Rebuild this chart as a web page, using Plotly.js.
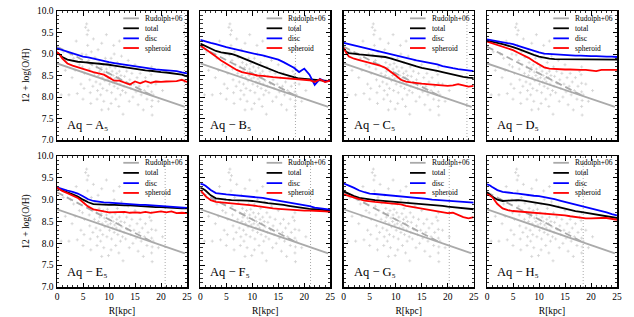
<!DOCTYPE html>
<html>
<head>
<meta charset="utf-8">
<script src="https://cdn.plot.ly/plotly-3.0.1.min.js"></script>
<style>html,body{margin:0;padding:0;background:#fff;}#chart{width:634px;height:317px;}</style>
</head>
<body>
<div id="chart"></div>
<script>
// ---------------- data ----------------
const panelNames = ['A','B','C','D','E','F','G','H'];
const radius = [0,0.5,1,2,3,4,5,6,7,8,9,10,11,12,13,14,15,16,17,18,19,20,21,22,23,24,25];

const discA  = [9.13,9.11,9.09,9.05,9.01,8.97,8.94,8.92,8.89,8.86,8.83,8.81,8.79,8.77,8.75,8.73,8.71,8.69,8.67,8.66,8.64,8.63,8.62,8.61,8.60,8.57,8.55];
const totalA = [9.04,8.98,8.93,8.87,8.84,8.82,8.81,8.80,8.79,8.78,8.76,8.75,8.73,8.71,8.70,8.68,8.66,8.64,8.62,8.61,8.59,8.58,8.57,8.55,8.54,8.52,8.48];
const sphA   = [9.04,8.99,8.90,8.78,8.73,8.69,8.66,8.62,8.58,8.55,8.52,8.45,8.38,8.38,8.34,8.29,8.36,8.32,8.37,8.33,8.36,8.35,8.36,8.36,8.37,8.40,8.35];

const discB  = [9.33,9.31,9.29,9.26,9.23,9.19,9.16,9.13,9.10,9.07,9.05,9.02,8.99,8.97,8.94,8.91,8.87,8.81,8.74,8.68,8.58,8.66,8.52,8.28,8.42,8.36,8.38];
const totalB = [9.24,9.21,9.18,9.12,9.07,9.04,9.02,9.00,8.96,8.91,8.86,8.81,8.76,8.71,8.66,8.61,8.57,8.53,8.49,8.46,8.43,8.42,8.42,8.41,8.40,8.38,8.37];
const sphB   = [9.20,9.16,9.12,9.03,8.94,8.85,8.77,8.70,8.63,8.58,8.55,8.52,8.50,8.49,8.47,8.46,8.45,8.44,8.43,8.42,8.41,8.40,8.39,8.35,8.41,8.35,8.38];

const discC  = [9.26,9.25,9.23,9.20,9.17,9.14,9.12,9.09,9.06,9.03,9.00,8.97,8.94,8.91,8.88,8.85,8.83,8.81,8.79,8.76,8.72,8.69,8.67,8.65,8.63,8.61,8.60];
const totalC = [9.12,9.05,9.02,9.00,8.99,8.98,8.97,8.96,8.95,8.93,8.90,8.86,8.82,8.78,8.74,8.71,8.68,8.66,8.64,8.61,8.58,8.55,8.52,8.50,8.47,8.45,8.44];
const sphC   = [9.14,9.02,8.94,8.89,8.86,8.83,8.80,8.77,8.73,8.68,8.60,8.50,8.40,8.36,8.34,8.32,8.31,8.30,8.29,8.28,8.27,8.26,8.27,8.30,8.27,8.24,8.26];

const discD  = [9.34,9.33,9.32,9.30,9.28,9.26,9.23,9.19,9.15,9.11,9.07,9.04,9.01,9.00,8.99,8.98,8.97,8.97,8.96,8.96,8.95,8.95,8.95,8.94,8.94,8.94,8.93];
const totalD = [9.31,9.30,9.28,9.26,9.23,9.20,9.16,9.12,9.07,9.03,8.98,8.94,8.91,8.89,8.88,8.88,8.87,8.87,8.87,8.87,8.87,8.87,8.87,8.87,8.87,8.87,8.87];
const sphD   = [9.29,9.27,9.25,9.21,9.17,9.14,9.09,9.03,8.97,8.91,8.83,8.75,8.69,8.66,8.65,8.64,8.64,8.64,8.63,8.63,8.63,8.62,8.60,8.63,8.63,8.63,8.63];

const discE  = [9.28,9.26,9.24,9.21,9.18,9.14,9.08,9.01,8.97,8.95,8.94,8.93,8.92,8.92,8.91,8.90,8.89,8.88,8.88,8.87,8.86,8.85,8.85,8.84,8.83,8.82,8.81];
const totalE = [9.26,9.24,9.21,9.17,9.12,9.07,9.00,8.94,8.90,8.89,8.88,8.88,8.88,8.87,8.87,8.87,8.86,8.86,8.85,8.84,8.83,8.83,8.82,8.81,8.81,8.80,8.80];
const sphE   = [9.28,9.24,9.20,9.15,9.10,9.04,8.94,8.84,8.78,8.75,8.73,8.71,8.71,8.71,8.72,8.70,8.71,8.70,8.72,8.70,8.72,8.73,8.71,8.73,8.69,8.70,8.69];

const discF  = [9.36,9.35,9.32,9.22,9.15,9.13,9.12,9.11,9.10,9.09,9.08,9.06,9.05,9.04,9.02,9.00,8.97,8.95,8.93,8.91,8.89,8.87,8.85,8.82,8.80,8.78,8.77];
const totalF = [9.27,9.25,9.21,9.10,9.03,9.01,9.00,8.99,8.99,8.98,8.98,8.97,8.96,8.94,8.92,8.91,8.89,8.88,8.86,8.84,8.82,8.81,8.79,8.78,8.77,8.76,8.75];
const sphF   = [9.22,9.16,9.08,8.99,8.95,8.94,8.93,8.92,8.91,8.90,8.89,8.87,8.85,8.83,8.81,8.80,8.79,8.78,8.77,8.76,8.75,8.75,8.75,8.75,8.74,8.73,8.72];

const discG  = [9.37,9.35,9.32,9.27,9.21,9.17,9.14,9.13,9.12,9.11,9.10,9.08,9.07,9.07,9.06,9.05,9.04,9.02,9.00,8.99,8.98,8.97,8.96,8.95,8.95,8.94,8.93];
const totalG = [9.19,9.16,9.13,9.08,9.04,9.02,9.00,8.99,8.98,8.97,8.96,8.95,8.95,8.94,8.93,8.92,8.91,8.90,8.89,8.87,8.86,8.84,8.83,8.81,8.81,8.79,8.78];
const sphG   = [9.12,9.10,9.08,9.05,9.01,8.98,8.96,8.95,8.94,8.93,8.92,8.91,8.89,8.86,8.84,8.82,8.80,8.78,8.76,8.74,8.71,8.69,8.70,8.65,8.60,8.57,8.60];

const discH  = [9.35,9.33,9.29,9.22,9.18,9.16,9.15,9.14,9.12,9.10,9.09,9.08,9.06,9.04,9.01,8.98,8.95,8.93,8.89,8.86,8.83,8.80,8.77,8.74,8.71,8.67,8.64];
const totalH = [9.17,9.12,9.07,9.00,8.97,8.98,8.99,8.99,8.98,8.96,8.94,8.93,8.91,8.88,8.85,8.82,8.79,8.77,8.74,8.72,8.70,8.68,8.66,8.64,8.62,8.60,8.58];
const sphH   = [9.12,9.10,9.06,8.90,8.80,8.76,8.74,8.73,8.72,8.71,8.70,8.70,8.69,8.68,8.67,8.66,8.64,8.62,8.60,8.58,8.57,8.57,8.58,8.58,8.58,8.56,8.54];

// dotted vertical marker radius per panel (null = none)
const markerRadius = [24.5, 18.3, 23.7, null, 20.8, 21.2, 20.3, 18.5];

// Rudolph+06 gradient (solid) and its dashed variant
const rudolphR  = [0, 24.6];
const rudolphOH = [8.78, 7.77];
const dashedR   = [0, 18.5];
const dashedOH  = [9.17, 8.02];

// observational HII regions (grey crosses)
const obsR = [0.8,1.6,2.3,2.9,3.2,3.5,3.9,2.6,3.7,1.2,
  4.3,4.6,4.8,5.0,5.3,5.5,5.7,5.8,5.9,6.0,6.1,6.2,6.3,6.4,6.5,5.6,6.6,6.8,6.9,7.0,5.2,4.9,
  7.2,7.3,7.5,7.6,7.8,7.9,8.0,8.1,8.2,8.3,8.4,8.5,8.6,8.7,8.8,8.9,9.0,9.1,9.2,9.3,9.4,9.5,9.6,9.7,9.8,9.9,7.7,8.6,9.5,
  10.0,10.1,10.2,10.3,10.4,10.5,10.6,10.7,10.8,10.9,11.0,11.1,11.2,11.3,11.4,11.5,11.6,11.7,11.8,11.9,12.0,12.1,12.2,12.3,12.4,12.5,12.6,12.7,12.8,12.9,10.4,11.0,12.0,
  13.0,13.2,13.4,13.5,13.7,13.9,14.0,14.2,14.4,14.6,14.8,15.0,15.2,15.4,15.6,15.8,16.0,16.2,16.4,16.6,
  16.8,17.0,17.3,17.5,17.8,18.1,18.2,18.2,18.3,18.2,18.3,18.2,18.5,19.0,19.5,20.3];
const obsOH = [8.05,8.62,8.05,8.45,8.90,8.62,8.08,9.00,9.30,9.05,
  8.75,8.30,9.00,7.95,8.55,9.62,9.70,9.45,9.20,9.55,8.85,8.65,8.40,8.10,7.85,8.98,9.05,8.75,8.25,9.35,8.20,8.70,
  8.55,8.92,8.35,8.70,8.15,9.10,8.50,8.80,8.60,8.30,8.05,8.68,9.25,8.45,8.20,8.75,7.90,8.58,8.38,8.90,8.50,8.65,8.15,8.78,8.42,7.72,7.95,7.70,9.45,
  8.55,8.30,8.70,8.45,8.90,8.10,8.60,8.35,8.50,9.20,8.25,8.42,8.68,7.95,8.35,8.55,8.80,8.20,8.45,7.78,8.60,8.30,8.05,8.50,8.95,8.38,8.15,7.60,8.70,8.25,7.85,9.00,9.30,
  8.48,8.10,8.60,8.32,8.85,7.90,8.40,8.20,8.55,8.00,8.30,8.75,8.12,8.45,7.82,8.25,8.55,8.05,8.35,7.70,
  8.15,8.45,7.95,8.25,8.60,8.52,8.32,8.12,7.92,7.78,7.58,8.70,8.05,8.30,7.90,8.15];

const curves = {
  A:[totalA,discA,sphA], B:[totalB,discB,sphB], C:[totalC,discC,sphC], D:[totalD,discD,sphD],
  E:[totalE,discE,sphE], F:[totalF,discF,sphF], G:[totalG,discG,sphG], H:[totalH,discH,sphH]
};
const curveNames = ['total','disc','spheroid'];
const curveColors = ['#000000','#0000ff','#ff0000'];
const legendNames = ['Rudolph+06','total','disc','spheroid'];
const legendColors = ['#aaaaaa','#000000','#0000ff','#ff0000'];

// ---------------- layout ----------------
const W = 634, H = 317;
const colLeft = [57, 200.3, 343.7, 487];
const panelW = 130;
const rowTop = [11, 156];
const panelH = [129, 131];
const FONT = 'Liberation Serif, DejaVu Serif, serif';

const traces = [];
const layout = {
  width: W, height: H,
  margin: {l:0, r:0, t:0, b:0},
  paper_bgcolor: '#fff', plot_bgcolor: '#fff',
  showlegend: false,
  font: {family: FONT, size: 9.5, color: '#000'},
  shapes: [], annotations: []
};

panelNames.forEach((p, i) => {
  const col = i % 4, row = Math.floor(i / 4);
  const xa = i === 0 ? 'x' : 'x' + (i + 1);
  const ya = i === 0 ? 'y' : 'y' + (i + 1);
  const xk = i === 0 ? 'xaxis' : 'xaxis' + (i + 1);
  const yk = i === 0 ? 'yaxis' : 'yaxis' + (i + 1);
  const x0 = colLeft[col] / W, x1 = (colLeft[col] + panelW) / W;
  const yTopPx = rowTop[row], yBotPx = rowTop[row] + panelH[row];
  const y0 = 1 - yBotPx / H, y1 = 1 - yTopPx / H;

  layout[xk] = {
    domain: [x0, x1], anchor: ya, range: [0, 25], dtick: 5, tick0: 0,
    ticks: 'inside', ticklen: 4.5, tickwidth: 1, tickcolor: '#000',
    minor: {ticks: 'inside', dtick: 1, ticklen: 2.2, tickwidth: 0.8, tickcolor: '#000'},
    showline: true, linewidth: 1.5, linecolor: '#000', mirror: 'allticks',
    showgrid: false, zeroline: false,
    showticklabels: row === 1, tickfont: {family: FONT, size: 9.5}
  };
  if (row === 1) layout[xk].title = {text: 'R[kpc]', font: {family: FONT, size: 9.5}, standoff: 6};
  layout[yk] = {
    domain: [y0, y1], anchor: xa, range: [7, 10], dtick: 0.5, tick0: 7,
    tickformat: '.1f',
    ticks: 'inside', ticklen: 4.5, tickwidth: 1, tickcolor: '#000',
    minor: {ticks: 'inside', dtick: 0.1, ticklen: 2.2, tickwidth: 0.8, tickcolor: '#000'},
    showline: true, linewidth: 1.5, linecolor: '#000', mirror: 'allticks',
    showgrid: false, zeroline: false,
    showticklabels: col === 0, tickfont: {family: FONT, size: 9.5}
  };
  if (col === 0) layout[yk].title = {text: '12 + log(O/H)', font: {family: FONT, size: 9.5}, standoff: 5};

  // observations
  traces.push({x: obsR, y: obsOH, xaxis: xa, yaxis: ya, type: 'scatter', mode: 'markers',
    marker: {symbol: 'cross-thin', size: 2.2, color: '#d2d2d2', line: {width: 0.8, color: '#d2d2d2'}},
    hoverinfo: 'skip'});
  // Rudolph+06
  traces.push({x: rudolphR, y: rudolphOH, xaxis: xa, yaxis: ya, type: 'scatter', mode: 'lines',
    line: {color: '#aaaaaa', width: 1.8}, name: 'Rudolph+06'});
  traces.push({x: dashedR, y: dashedOH, xaxis: xa, yaxis: ya, type: 'scatter', mode: 'lines',
    line: {color: '#aaaaaa', width: 1.8, dash: '7px,4px'}, hoverinfo: 'skip'});
  // model curves
  curves[p].forEach((vals, k) => {
    traces.push({x: radius, y: vals, xaxis: xa, yaxis: ya, type: 'scatter', mode: 'lines',
      line: {color: curveColors[k], width: 1.8}, name: curveNames[k]});
  });

  // dotted marker line
  if (markerRadius[i] !== null) {
    layout.shapes.push({type: 'line', xref: xa, yref: ya + ' domain', x0: markerRadius[i], x1: markerRadius[i], y0: 0, y1: 1,
      line: {color: '#aaaaaa', width: 1, dash: '1px,2px'}, layer: 'below'});
  }

  // legend (per panel)
  const legY = [0.943, 0.866, 0.788, 0.713];
  legendNames.forEach((nm, k) => {
    const yy = row === 0 ? legY[k] : legY[k] + 0.005;
    layout.shapes.push({type: 'line', xref: xa + ' domain', yref: ya + ' domain',
      x0: 0.51, x1: 0.63, y0: yy, y1: yy, line: {color: legendColors[k], width: 1.8}});
    layout.annotations.push({xref: xa + ' domain', yref: ya + ' domain', x: 0.66, y: yy,
      xanchor: 'left', yanchor: 'middle', text: nm, showarrow: false,
      font: {family: FONT, size: 7.5, color: '#000'}});
  });

  // panel label
  layout.annotations.push({xref: xa + ' domain', yref: ya + ' domain', x: 0.06, y: 0.115,
    xanchor: 'left', yanchor: 'middle', text: 'Aq − ' + p + '₅', showarrow: false,
    font: {family: FONT, size: 12.5, color: '#000'}});
});

Plotly.newPlot('chart', traces, layout, {staticPlot: true, displayModeBar: false});
</script>
</body>
</html>
